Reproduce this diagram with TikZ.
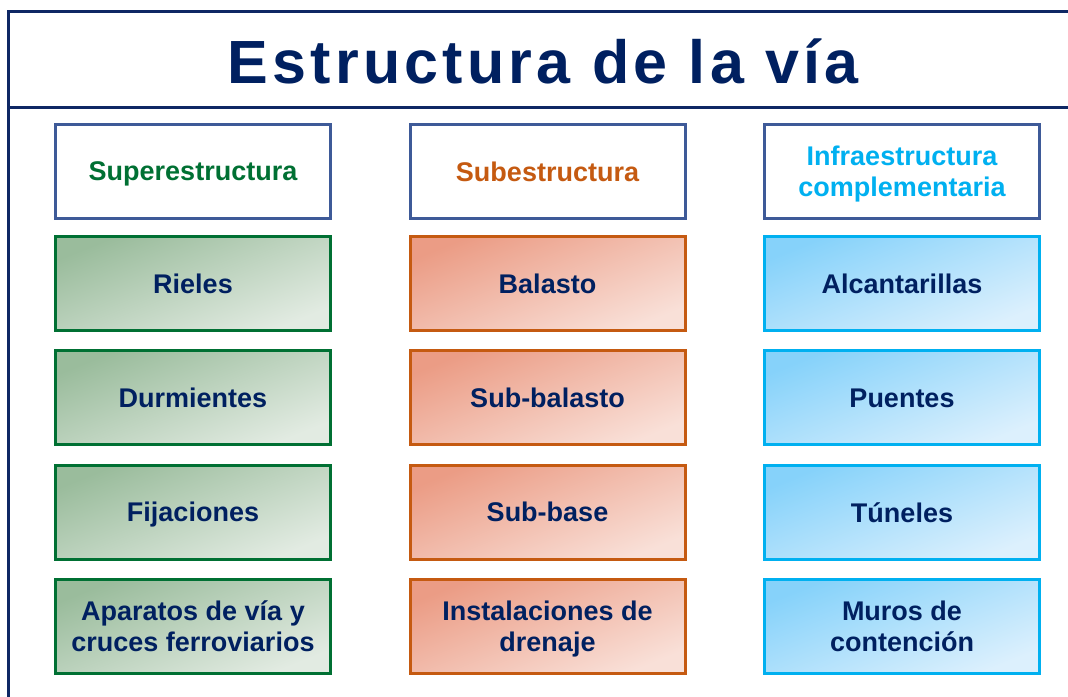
\documentclass[tikz,border=0pt]{standalone}
\usepackage{fontspec}
\setmainfont{Liberation Sans}
\newfontfamily\titlefont[LetterSpace=7]{Liberation Sans}
\usetikzlibrary{positioning}
\definecolor{navy}{RGB}{0,32,96}
\definecolor{frameline}{RGB}{14,40,100}
\definecolor{hdline}{RGB}{62,90,152}
\definecolor{grnline}{RGB}{0,112,51}
\definecolor{grntop}{RGB}{154,188,156}
\definecolor{grnbot}{RGB}{226,235,226}
\definecolor{orgline}{RGB}{197,90,17}
\definecolor{orgtop}{RGB}{235,156,133}
\definecolor{orgbot}{RGB}{249,224,216}
\definecolor{blueline}{RGB}{0,176,240}
\definecolor{bluetop}{RGB}{134,210,250}
\definecolor{bluebot}{RGB}{220,240,253}
\begin{document}
\begin{tikzpicture}[x=1pt,y=-1pt,
    hdbox/.style={draw=hdline,line width=3pt,fill=white,minimum width=275pt,
        minimum height=94pt,align=center,text depth=-4pt,
        font=\fontsize{27}{31}\selectfont\bfseries},
    itembox/.style={hdbox,text=navy,draw=#1line,top color=#1top,bottom color=#1bot,
        shading angle=22}]
    \useasboundingbox (0,0) rectangle (1068,696);
    \clip (0,0) rectangle (1068,696);
    % frame and title
    \draw [line width=3pt,frameline] (8,720) -- (8,11) -- (1090,11);
    \draw [line width=3pt,frameline] (8,107) -- (1090,107);
    \node [text=navy,font=\fontsize{61}{61}\selectfont\titlefont\bfseries] (title) at (543,61) {Estructura de la vía};
    % headers
    \node [hdbox,text=grnline] (sup0) at (193,171.5) {Superestructura};
    \node [hdbox,text=orgline] (sub0) at (547.5,171.5) {Subestructura};
    \node [hdbox,text=blueline] (inf0) at (902,171.5) {Infraestructura\\complementaria};
    % columns
    \foreach \txt [count=\i, evaluate=\i as \j using int(\i-1),
            evaluate=\i as \gap using {\i==1 ? 15 : 17.3}] in
        {Rieles,Durmientes,Fijaciones,{Aparatos de vía y\\cruces ferroviarios}}
        \node [itembox=grn,below=\gap pt of sup\j] (sup\i) {\txt};
    \foreach \txt [count=\i, evaluate=\i as \j using int(\i-1),
            evaluate=\i as \gap using {\i==1 ? 15 : 17.3}] in
        {Balasto,Sub-balasto,Sub-base,{Instalaciones de\\drenaje}}
        \node [itembox=org,below=\gap pt of sub\j] (sub\i) {\txt};
    \foreach \txt [count=\i, evaluate=\i as \j using int(\i-1),
            evaluate=\i as \gap using {\i==1 ? 15 : 17.3}] in
        {Alcantarillas,Puentes,Túneles,{Muros de\\contención}}
        \node [itembox=blue,below=\gap pt of inf\j] (inf\i) {\txt};
\end{tikzpicture}
\end{document}
